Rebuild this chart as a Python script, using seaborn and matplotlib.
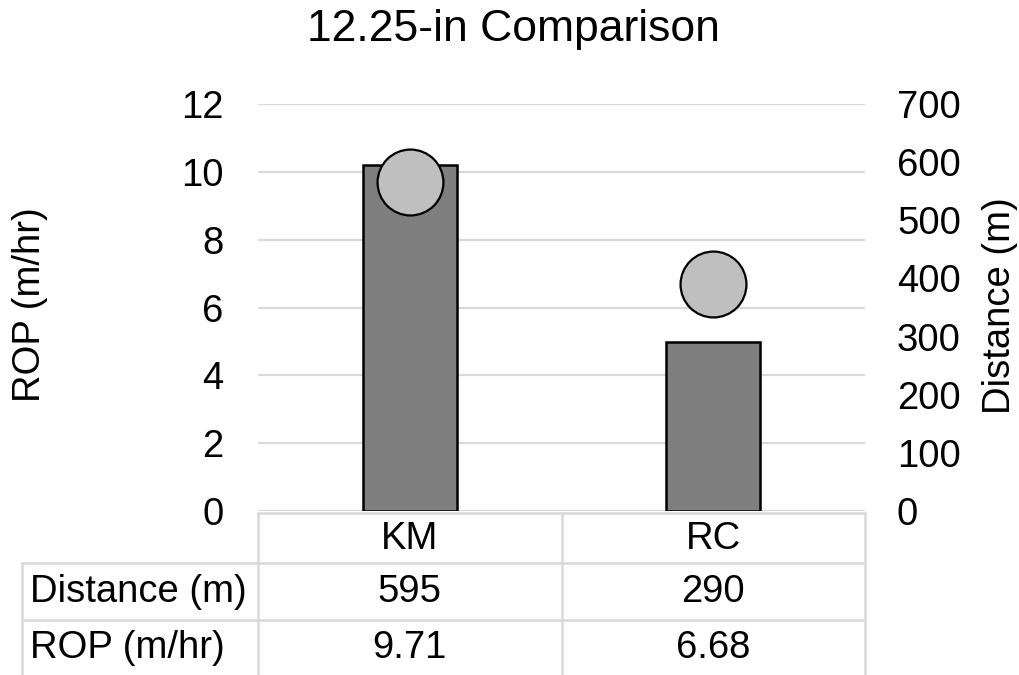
import matplotlib
matplotlib.use("Agg")
import matplotlib.pyplot as plt
import seaborn as sns
import pandas as pd
from matplotlib.lines import Line2D
from matplotlib.transforms import blended_transform_factory

# Chart data
categories = ["KM", "RC"]
distance_m = [595, 290]
rop_m_hr = [9.71, 6.68]
rop_ticks = [0, 2, 4, 6, 8, 10, 12]
distance_ticks = [0, 100, 200, 300, 400, 500, 600, 700]
row_labels = ["Distance (m)", "ROP (m/hr)"]
title = "12.25-in Comparison"

sns.set_theme(style="white")
plt.rcParams["font.family"] = ["Liberation Sans", "DejaVu Sans"]
plt.rcParams["text.color"] = "black"
plt.rcParams["ytick.color"] = "black"
plt.rcParams["ytick.labelcolor"] = "black"

df = pd.DataFrame({"Bit": categories, "Distance": distance_m, "ROP": rop_m_hr})

W, H = 1020, 675
fig = plt.figure(figsize=(W / 100, H / 100), dpi=100)


def fx(px):
    return px / W


def fy(py):
    return 1 - py / H


GRID = "#d9d9d9"
FS = 27.5

ax = fig.add_axes([fx(258), fy(511), fx(865) - fx(258), fy(104) - fy(511)])
ax_bar = ax.twinx()
ax_pts = ax.twinx()

# Distance bars on the right-hand scale
sns.barplot(data=df, x="Bit", y="Distance", ax=ax_bar, color="#7f7f7f",
            width=0.31, edgecolor="black", linewidth=1.8, saturation=1)
# ROP markers on the left-hand scale
sns.scatterplot(data=df, x="Bit", y="ROP", ax=ax_pts, s=2250, color="#bfbfbf",
                edgecolor="black", linewidth=1.6, zorder=3, clip_on=False,
                legend=False)

ax.set_xlim(-0.5, 1.5)
ax.set_ylim(0, 12)
ax_pts.set_ylim(0, 12)
ax_bar.set_ylim(0, 700)

ax.set_yticks(rop_ticks)
ax.set_yticklabels([str(t) for t in rop_ticks], fontsize=FS, color="black")
ax_bar.set_yticks(distance_ticks)
ax_bar.set_yticklabels([str(t) for t in distance_ticks], fontsize=FS,
                       color="black")
ax.tick_params(axis="y", length=0, pad=25)
ax_bar.tick_params(axis="y", length=0, pad=23)
ax_pts.set_yticks([])

for a in (ax, ax_bar, ax_pts):
    a.set_xticks([])
    a.set_xlabel("")
    a.set_ylabel("")
    for s in a.spines.values():
        s.set_visible(False)
    a.patch.set_visible(False)
ax_bar.grid(False)
ax_pts.grid(False)
ax.yaxis.grid(True, color=GRID, linewidth=1.6)
ax.xaxis.grid(False)
ax.set_axisbelow(True)

# Axis titles and chart title
fig.text(fx(513), fy(30), title, ha="center", va="center", fontsize=32)
fig.text(fx(30), fy(305), "ROP (m/hr)", rotation=90, ha="center",
         va="center", fontsize=FS)
fig.text(fx(1000), fy(306), "Distance (m)", rotation=90, ha="center",
         va="center", fontsize=FS)

# Data table under the plot
tr = blended_transform_factory(ax.transData, fig.transFigure)
tf = fig.transFigure
lw = 1.8
y_top, y_head, y_row1, y_bot = fy(513), fy(563), fy(620), fy(676)
x_edges = [-0.5, 0.5, 1.5]

fig.add_artist(Line2D([-0.5, 1.5], [y_top, y_top], transform=tr,
                      color=GRID, lw=lw))
for xe in x_edges:
    fig.add_artist(Line2D([xe, xe], [y_top, y_bot], transform=tr,
                          color=GRID, lw=lw))
for yl in (y_head, y_row1):
    fig.add_artist(Line2D([fx(22), ax.get_position().x1], [yl, yl],
                          transform=tf, color=GRID, lw=lw))
fig.add_artist(Line2D([fx(22), fx(22)], [y_head, y_bot], transform=tf,
                      color=GRID, lw=lw))

for i, cat in enumerate(categories):
    fig.text(i, fy(539), cat, transform=tr, ha="center", va="center",
             fontsize=FS)
    fig.text(i, fy(592), f"{distance_m[i]}", transform=tr, ha="center",
             va="center", fontsize=FS)
    fig.text(i, fy(648), f"{rop_m_hr[i]:.2f}", transform=tr, ha="center",
             va="center", fontsize=FS)

for label, yc in zip(row_labels, (fy(592), fy(648))):
    fig.text(fx(30), yc, label, ha="left", va="center", fontsize=FS)

fig.savefig("out.png", dpi=100)
